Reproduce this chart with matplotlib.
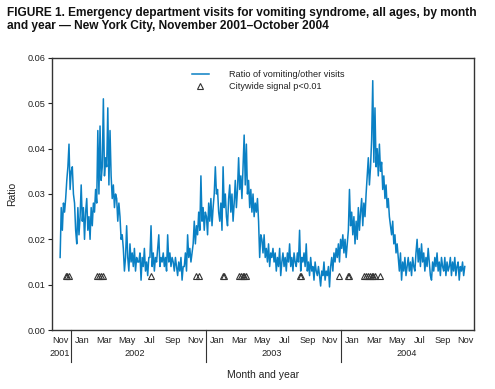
import pandas as pd
import matplotlib
matplotlib.use('Agg')
import matplotlib.pyplot as plt
import matplotlib.transforms as mtransforms

# ---- data (ratio every 3 days) ----
ratio_nov01_apr02 = [0.016, 0.027, 0.022, 0.028, 0.026, 0.029, 0.033, 0.036, 0.041, 0.031,
                     0.035, 0.036, 0.030, 0.028, 0.022, 0.019, 0.027, 0.021, 0.025, 0.032, 0.024,
                     0.027, 0.020, 0.026, 0.029, 0.022, 0.025, 0.020, 0.027, 0.023, 0.028,
                     0.026, 0.031, 0.028, 0.044, 0.030, 0.045, 0.033, 0.036, 0.051,
                     0.034, 0.038, 0.036, 0.049, 0.032, 0.044, 0.034, 0.029, 0.032, 0.027, 0.030,
                     0.029, 0.024, 0.028, 0.025, 0.020, 0.021, 0.018, 0.013, 0.016, 0.023]
ratio_may02_oct02 = [0.016, 0.013, 0.019, 0.015, 0.017, 0.014, 0.018, 0.013, 0.016, 0.015,
                     0.015, 0.017, 0.011, 0.016, 0.014, 0.018, 0.013, 0.015, 0.012, 0.016,
                     0.016, 0.023, 0.014, 0.017, 0.013, 0.016, 0.015, 0.018, 0.021, 0.014,
                     0.016, 0.015, 0.017, 0.014, 0.016, 0.013, 0.021, 0.015, 0.017, 0.014, 0.016,
                     0.015, 0.013, 0.016, 0.014, 0.012, 0.015, 0.013, 0.016, 0.011, 0.014,
                     0.014, 0.017, 0.013, 0.021, 0.016, 0.018, 0.015, 0.017, 0.019, 0.024]
ratio_nov02_apr03 = [0.019, 0.023, 0.021, 0.026, 0.022, 0.034, 0.024, 0.027, 0.022, 0.026,
                     0.025, 0.021, 0.028, 0.024, 0.029, 0.023, 0.027, 0.030, 0.036, 0.030,
                     0.031, 0.026, 0.024, 0.028, 0.022, 0.036, 0.027, 0.030, 0.025, 0.023, 0.029,
                     0.032, 0.026, 0.030, 0.024, 0.028, 0.033, 0.027, 0.031, 0.038,
                     0.031, 0.034, 0.029, 0.036, 0.043, 0.032, 0.041, 0.030, 0.033, 0.027,
                     0.031, 0.026, 0.030, 0.025, 0.028, 0.026, 0.029, 0.024, 0.016, 0.021]
ratio_may03_oct03 = [0.020, 0.017, 0.021, 0.016, 0.018, 0.015, 0.019, 0.014, 0.017, 0.016, 0.018,
                     0.015, 0.017, 0.013, 0.016, 0.014, 0.018, 0.012, 0.015, 0.017, 0.014,
                     0.016, 0.013, 0.017, 0.015, 0.019, 0.014, 0.016, 0.013, 0.017, 0.015,
                     0.014, 0.017, 0.015, 0.022, 0.013, 0.016, 0.015, 0.017, 0.014, 0.019,
                     0.013, 0.015, 0.012, 0.016, 0.013, 0.014, 0.011, 0.015, 0.013, 0.012,
                     0.014, 0.012, 0.0097, 0.013, 0.012, 0.015, 0.011, 0.013, 0.012, 0.014, 0.0095]
ratio_nov03_apr04 = [0.014, 0.016, 0.013, 0.017, 0.015, 0.018, 0.016, 0.019, 0.015, 0.020,
                     0.018, 0.021, 0.017, 0.020, 0.016, 0.019, 0.022, 0.031, 0.023, 0.026,
                     0.021, 0.025, 0.019, 0.024, 0.020, 0.027, 0.022, 0.026, 0.029, 0.023,
                     0.028, 0.025, 0.030, 0.034, 0.038, 0.032, 0.036, 0.042, 0.055, 0.037,
                     0.049, 0.036, 0.040, 0.034, 0.041, 0.035, 0.037, 0.031, 0.034, 0.029,
                     0.032, 0.027, 0.029, 0.025, 0.023, 0.021, 0.024, 0.019, 0.021, 0.017]
ratio_may04_oct04 = [0.019, 0.016, 0.013, 0.017, 0.011, 0.015, 0.013, 0.016, 0.012, 0.014, 0.016,
                     0.013, 0.015, 0.012, 0.016, 0.014, 0.013, 0.017, 0.020, 0.015, 0.018,
                     0.014, 0.019, 0.015, 0.017, 0.013, 0.016, 0.014, 0.018, 0.015, 0.012,
                     0.011, 0.015, 0.013, 0.016, 0.014, 0.017, 0.013, 0.015, 0.012, 0.016,
                     0.014, 0.013, 0.016, 0.012, 0.015, 0.013, 0.014, 0.016, 0.012, 0.015,
                     0.013, 0.016, 0.012, 0.014, 0.015, 0.011, 0.014, 0.013, 0.015, 0.012, 0.014]

series_start = '2001-11-01'
series_step = '3D'

signal_dates = ['2001-11-16', '2001-11-20', '2001-11-25',
                '2002-02-10', '2002-02-14', '2002-02-19', '2002-02-24',
                '2002-07-05',
                '2002-11-04', '2002-11-12',
                '2003-01-15', '2003-01-18',
                '2003-03-01', '2003-03-05', '2003-03-10', '2003-03-14', '2003-03-18',
                '2003-08-12', '2003-08-15',
                '2003-11-27',
                '2003-12-21', '2003-12-24',
                '2004-02-02', '2004-02-07', '2004-02-12', '2004-02-17', '2004-02-22',
                '2004-02-27', '2004-03-03', '2004-03-16']
signal_level = 0.012

year_labels = ['2001', '2002', '2003', '2004']
year_label_dates = ['2001-11-01', '2002-05-23', '2003-05-27', '2004-05-28']
year_breaks = ['2001-12-01', '2002-12-01', '2003-12-01']

title = ("FIGURE 1. Emergency department visits for vomiting syndrome, all ages, by month\n"
         "and year \u2014 New York City, November 2001\u2013October 2004")

# ---- drawing ----
ratio = (ratio_nov01_apr02 + ratio_may02_oct02 + ratio_nov02_apr03 +
         ratio_may03_oct03 + ratio_nov03_apr04 + ratio_may04_oct04)
dates = pd.date_range(series_start, periods=len(ratio), freq=series_step)

plt.rcParams['font.family'] = ['Liberation Sans', 'DejaVu Sans']
TXT = '#222222'
LINE = '#0a80c4'

fig = plt.figure(figsize=(4.95, 3.89), dpi=100)
W, H = 495, 389
ax = fig.add_axes([52 / W, 1 - 330 / H, 422 / W, 272 / H])

ax.plot(dates, ratio, color=LINE, lw=1.1, label='Ratio of vomiting/other visits')
sd = pd.to_datetime(signal_dates)
ax.plot(sd, [signal_level] * len(sd), ls='none', marker='^', ms=3.8,
        mfc='none', mec='#333333', mew=0.8, label='Citywide signal p<0.01')

x0 = pd.Timestamp(series_start)
ax.set_xlim(x0 - pd.Timedelta(days=22), x0 + pd.Timedelta(days=1120))
ax.set_ylim(0, 0.06)
ax.set_yticks([0, 0.01, 0.02, 0.03, 0.04, 0.05, 0.06])
ax.set_yticklabels(['%.2f' % v for v in ax.get_yticks()])

month_ticks = pd.date_range('2001-11-01', '2004-11-01', freq='2MS')
ax.set_xticks(month_ticks)
ax.set_xticklabels([d.strftime('%b') for d in month_ticks])
ax.tick_params(axis='x', length=0, pad=4, labelsize=6.6, colors=TXT)
ax.tick_params(axis='y', length=3, width=0.8, pad=2, labelsize=6.6, colors=TXT)
for s in ax.spines.values():
    s.set_color('#333333')
    s.set_linewidth(1.0)

trans = mtransforms.blended_transform_factory(ax.transData, ax.transAxes)
for b in year_breaks:
    ax.plot([pd.Timestamp(b)] * 2, [0, -0.118], color='#333333', lw=0.8,
            transform=trans, clip_on=False)
for lab, d in zip(year_labels, year_label_dates):
    ax.text(pd.Timestamp(d), -0.085, lab, transform=trans, ha='center', va='center',
            fontsize=6.6, color=TXT)

leg = ax.legend(loc='upper left', bbox_to_anchor=((192 - 52) / 422, (330 - 70) / 272),
                frameon=False, fontsize=6.6, handlelength=1.8, handletextpad=2.2,
                borderpad=0, borderaxespad=0, labelspacing=0.3)
for t in leg.get_texts():
    t.set_color(TXT)

fig.text(7 / W, 1 - 7 / H, title, ha='left', va='top', fontsize=8.55,
         fontweight='bold', linespacing=1.12, color='#111111')
fig.text(12 / W, 1 - 194 / H, 'Ratio', rotation=90, ha='center', va='center',
         fontsize=7.5, color=TXT)
fig.text(263 / W, 1 - 375 / H, 'Month and year', ha='center', va='center',
         fontsize=7.5, color=TXT)

fig.savefig('out.png', dpi=100)
